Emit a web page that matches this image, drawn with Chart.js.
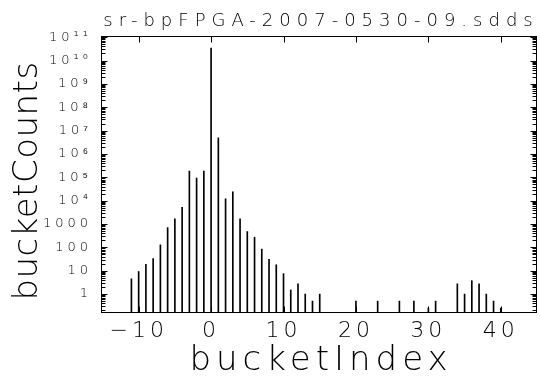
<!DOCTYPE html>
<html>
<head>
<meta charset="utf-8">
<script src="https://cdn.jsdelivr.net/npm/chart.js@4.4.1/dist/chart.umd.min.js"></script>
<style>
  html, body { margin: 0; padding: 0; background: #fff; }
  #wrap { width: 540px; height: 376px; }
</style>
</head>
<body>
<div id="wrap"><canvas id="histChart"></canvas></div>
<script>
// histogram of bucket counts per bucket index
const bucketIndex = [-11, -10, -9, -8, -7, -6, -5, -4, -3, -2, -1, 0, 1, 2, 3, 4, 5, 6, 7, 8, 9, 10,
  11, 12, 13, 14, 15, 20, 23, 26, 28, 30, 31, 34, 35, 36, 37, 38, 39, 40];
const bucketCounts = [4.5, 9.25, 19, 33, 128, 700, 1650, 5200, 185000, 93000, 185000, 3.4e10, 4.9e6,
  12000, 24000, 1650, 475, 273, 84, 31, 18, 7.5,
  1.5, 2.75, 1, 0.5, 1, 0.5, 0.5, 0.5, 0.5, 0.25, 0.5, 2.75, 1, 3.75, 2.75, 1, 0.5, 0.25];

const xTicks = [-10, 0, 10, 20, 30, 40];
const yTicks = [1, 10, 100, 1000, 1e4, 1e5, 1e6, 1e7, 1e8, 1e9, 1e10, 1e11];
const yTickLabels = ['1', '10', '100', '1000', '10\u2074', '10\u2075', '10\u2076', '10\u2077',
  '10\u2078', '10\u2079', '10\u00B9\u2070', '10\u00B9\u00B9'];

const FONT = "'DejaVu Sans', sans-serif";

// frame, inward ticks and titles
const frameTicks = {
  id: 'frameTicks',
  beforeUpdate(chart) { chart.ctx.letterSpacing = '4px'; },
  beforeDraw(chart) { chart.ctx.letterSpacing = '4px'; },
  afterDraw(chart) {
    const { ctx, chartArea: a, scales: { x, y } } = chart;
    const L = Math.round(a.left) + 0.5, R = Math.round(a.right) - 0.5;
    const T = Math.round(a.top) + 0.5, B = Math.round(a.bottom) - 0.5;
    ctx.save();
    ctx.strokeStyle = '#000';
    ctx.lineWidth = 1;
    ctx.strokeRect(L, T, R - L, B - T);
    ctx.beginPath();
    xTicks.forEach(v => {
      const px = Math.round(x.getPixelForValue(v)) + 0.5;
      ctx.moveTo(px, T); ctx.lineTo(px, T + 6);
      ctx.moveTo(px, B); ctx.lineTo(px, B - 6);
    });
    for (let d = -1; d <= 11; d++) {
      for (let m = 1; m <= 9; m++) {
        const v = m * Math.pow(10, d);
        if (v < y.min || v > y.max) continue;
        const py = Math.round(y.getPixelForValue(v)) + 0.5;
        const len = m === 1 ? 6 : 4;
        ctx.moveTo(L, py); ctx.lineTo(L + len, py);
        ctx.moveTo(R, py); ctx.lineTo(R - len, py);
      }
    }
    ctx.stroke();

    ctx.fillStyle = '#000';
    ctx.textBaseline = 'alphabetic';
    ctx.textAlign = 'center';
    ctx.font = '200 18px ' + FONT;
    ctx.letterSpacing = '6px';
    ctx.fillText('sr-bpFPGA-2007-0530-09.sdds', 321, 26);

    ctx.font = '200 34px ' + FONT;
    ctx.letterSpacing = '5px';
    ctx.fillText('bucketIndex', 321, 370);

    ctx.letterSpacing = '0.5px';
    ctx.translate(37, 181);
    ctx.rotate(-Math.PI / 2);
    ctx.fillText('bucketCounts', 0, 0);
    ctx.restore();
  }
};

new Chart(document.getElementById('histChart'), {
  type: 'bar',
  data: {
    datasets: [{
      data: bucketIndex.map((v, i) => ({ x: v, y: bucketCounts[i] })),
      backgroundColor: '#000',
      borderWidth: 0,
      barThickness: 1
    }]
  },
  options: {
    responsive: true,
    maintainAspectRatio: false,
    animation: false,
    layout: { padding: { top: 36, right: 3, left: 0, bottom: 0 } },
    plugins: { legend: { display: false }, tooltip: { enabled: false } },
    scales: {
      x: {
        type: 'linear',
        offset: false,
        min: -15.2,
        max: 45,
        grid: { display: false },
        border: { display: false },
        afterBuildTicks: s => { s.ticks = xTicks.map(v => ({ value: v })); },
        afterFit: s => { s.height = 63; },
        ticks: {
          autoSkip: false,
          maxRotation: 0,
          padding: -3,
          color: '#000',
          font: { family: FONT, size: 22, weight: 200 },
          callback: v => String(v).replace('-', '\u2212')
        }
      },
      y: {
        type: 'logarithmic',
        min: 0.155,
        max: 1.12e11,
        grid: { display: false },
        border: { display: false },
        afterBuildTicks: s => { s.ticks = yTicks.map(v => ({ value: v })); },
        afterFit: s => { s.width = 101; },
        ticks: {
          autoSkip: false,
          padding: 1,
          color: '#000',
          font: { family: FONT, size: 13, weight: 200 },
          callback: v => yTickLabels[Math.round(Math.log10(v))]
        }
      }
    }
  },
  plugins: [frameTicks]
});
</script>
</body>
</html>
